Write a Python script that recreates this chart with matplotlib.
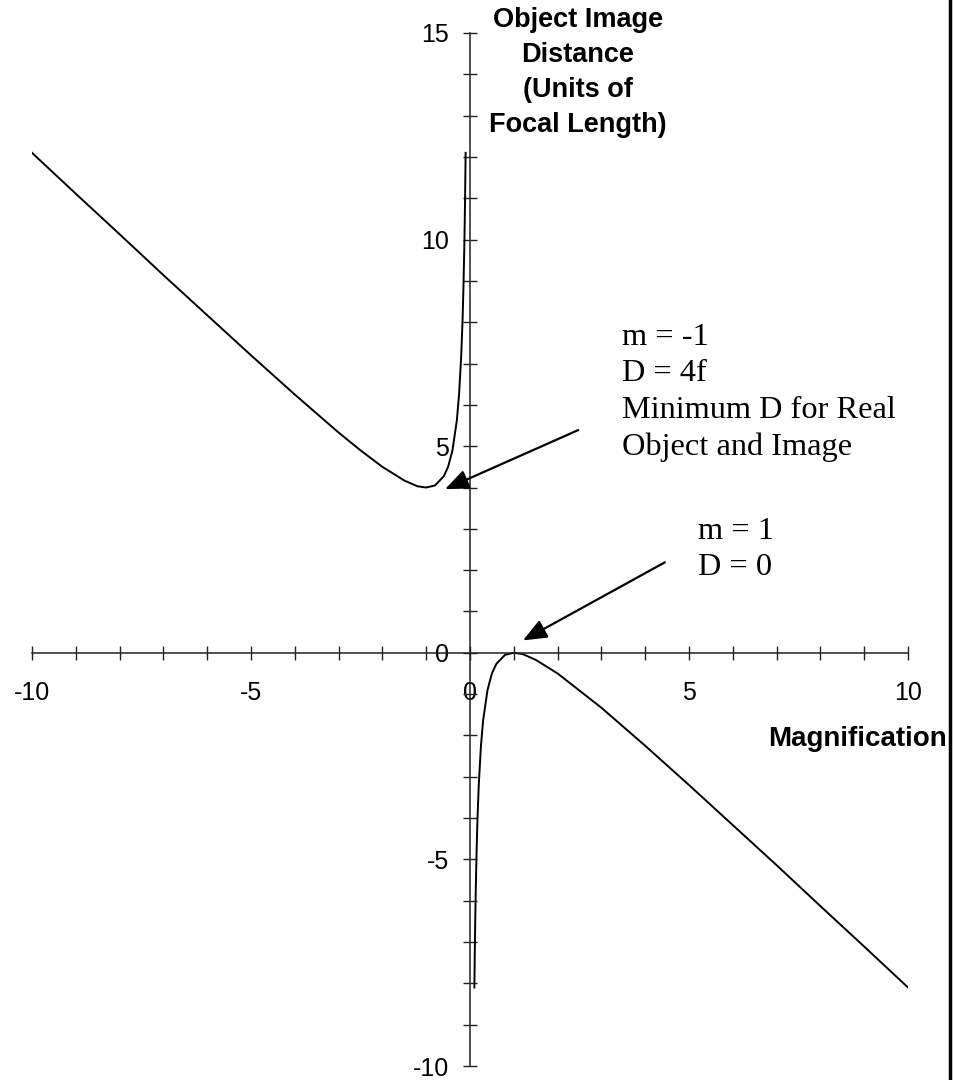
import matplotlib.pyplot as plt
from matplotlib.lines import Line2D
from matplotlib.ticker import MultipleLocator

plt.rcParams['axes.unicode_minus'] = False

# Magnification vs object-image distance (units of focal length)
m_neg = [-10, -9, -8, -7, -6, -5, -4, -3, -2.5, -2, -1.5, -1.2, -1.0,
         -0.8, -0.6, -0.5, -0.4, -0.3, -0.25, -0.2, -0.17, -0.15, -0.13,
         -0.12, -0.11, -0.1]
d_neg = [12.1, 11.11, 10.13, 9.14, 8.17, 7.2, 6.25, 5.33, 4.9, 4.5, 4.17,
         4.03, 4.0, 4.05, 4.27, 4.5, 4.9, 5.63, 6.25, 7.2, 8.05, 8.82, 9.82,
         10.45, 11.2, 12.1]

m_pos = [0.1, 0.11, 0.12, 0.13, 0.15, 0.17, 0.2, 0.25, 0.3, 0.4, 0.5, 0.6,
         0.8, 1.0, 1.2, 1.5, 2, 3, 4, 5, 6, 7, 8, 9, 10]
d_pos = [-8.1, -7.2, -6.45, -5.82, -4.82, -4.05, -3.2, -2.25, -1.63, -0.9,
         -0.5, -0.27, -0.05, 0.0, -0.03, -0.17, -0.5, -1.33, -2.25, -3.2,
         -4.17, -5.14, -6.13, -7.11, -8.1]

W, H = 954, 1080


def fx(px):
    return px / W


def fy(py):
    return 1 - py / H


fig = plt.figure(figsize=(W / 100, H / 100), dpi=100)
ax = fig.add_axes([fx(32), fy(1066), (908 - 32) / W, (1066 - 33) / H])

ax.plot(m_neg, d_neg, color='black', lw=1.4)
ax.plot(m_pos, d_pos, color='black', lw=1.4)

ax.set_xlim(-10, 10)
ax.set_ylim(-10, 15)

# axes crossing at origin
ax.spines['left'].set_position(('data', 0))
ax.spines['bottom'].set_position(('data', 0))
ax.spines['top'].set_visible(False)
ax.spines['right'].set_visible(False)
for s in ('left', 'bottom'):
    ax.spines[s].set_linewidth(1.1)
    ax.spines[s].set_color('#222222')

ax.xaxis.set_major_locator(MultipleLocator(5))
ax.xaxis.set_minor_locator(MultipleLocator(1))
ax.yaxis.set_major_locator(MultipleLocator(5))
ax.yaxis.set_minor_locator(MultipleLocator(1))
ax.tick_params(which='both', direction='inout', length=10, width=1,
               color='#222222')
ax.tick_params(axis='x', which='major', pad=15)
ax.tick_params(axis='y', which='major', pad=10)
for lab in ax.get_xticklabels() + ax.get_yticklabels():
    lab.set_fontfamily('Liberation Sans')
    lab.set_fontsize(18)

# axis titles (va='baseline' puts the last line on the given baseline)
fig.text(fx(578), fy(132), 'Object Image\nDistance\n(Units of\nFocal Length)',
         ha='center', va='baseline', multialignment='center',
         family='Liberation Sans', weight='bold', fontsize=19.5, linespacing=1.45)
fig.text(fx(947), fy(746), 'Magnification', ha='right', va='baseline',
         family='Liberation Sans', weight='bold', fontsize=20)

# annotations
fig.text(fx(622), fy(455), 'm = -1\nD = 4f\nMinimum D for Real\nObject and Image',
         ha='left', va='baseline', family='Liberation Serif', fontsize=23.3,
         linespacing=1.34)
fig.text(fx(698), fy(575), 'm = 1\nD = 0', ha='left', va='baseline',
         family='Liberation Serif', fontsize=23.3, linespacing=1.34)

arrow = dict(arrowstyle='-|>,head_length=1.45,head_width=0.6',
             color='black', lw=1.6, shrinkA=0, shrinkB=0)
ax.annotate('', xy=(-0.57, 3.96), xytext=(2.47, 5.39), arrowprops=arrow)
ax.annotate('', xy=(1.21, 0.30), xytext=(4.45, 2.19), arrowprops=arrow)

# frame line on the right edge
fig.add_artist(Line2D([fx(950), fx(950)], [0, 1], transform=fig.transFigure,
                      color='black', lw=2.5))

fig.savefig('out.png', dpi=100)
